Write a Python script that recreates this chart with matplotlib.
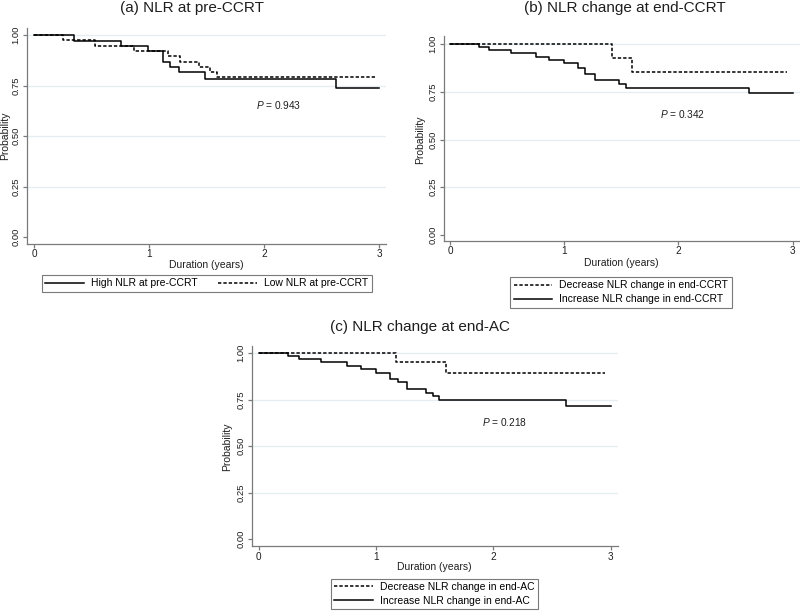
import matplotlib
matplotlib.use("Agg")
import matplotlib.pyplot as plt

plt.rcParams["font.family"] = ["Liberation Sans", "DejaVu Sans"]
plt.rcParams["mathtext.fontset"] = "custom"
plt.rcParams["mathtext.it"] = "Liberation Sans:italic"
plt.rcParams["mathtext.rm"] = "Liberation Sans"

# Kaplan-Meier step data (time in years, survival probability)
a_high_t = [0, 0.345, 0.75, 0.99, 1.12, 1.18, 1.26, 1.48, 2.62, 3.0]
a_high_s = [1.0, 0.972, 0.947, 0.921, 0.866, 0.840, 0.815, 0.784, 0.738, 0.738]
a_low_t = [0, 0.25, 0.53, 0.87, 1.165, 1.27, 1.43, 1.53, 1.59, 2.98]
a_low_s = [1.0, 0.974, 0.947, 0.921, 0.895, 0.868, 0.842, 0.816, 0.790, 0.790]

b_dec_t = [0, 1.416, 1.597, 2.95]
b_dec_s = [1.0, 0.928, 0.852, 0.852]
b_inc_t = [0, 0.256, 0.344, 0.535, 0.757, 0.87, 1.0, 1.12, 1.18, 1.27, 1.48, 1.54, 2.62, 3.0]
b_inc_s = [1.0, 0.984, 0.967, 0.951, 0.934, 0.918, 0.903, 0.872, 0.841, 0.810, 0.790, 0.772, 0.743, 0.743]

c_dec_t = [0, 1.168, 1.594, 2.95]
c_dec_s = [1.0, 0.952, 0.894, 0.894]
c_inc_t = [0, 0.253, 0.344, 0.528, 0.755, 0.87, 1.0, 1.12, 1.185, 1.267, 1.424, 1.483, 1.54, 2.62, 3.0]
c_inc_s = [1.0, 0.984, 0.968, 0.952, 0.934, 0.914, 0.896, 0.862, 0.844, 0.808, 0.789, 0.770, 0.751, 0.715, 0.715]

p_values = ["0.943", "0.342", "0.218"]
titles = ["(a) NLR at pre-CCRT", "(b) NLR change at end-CCRT", "(c) NLR change at end-AC"]
yticks = [0, 0.25, 0.5, 0.75, 1.0]
ytick_labels = ["0.00", "0.25", "0.50", "0.75", "1.00"]
xticks = [0, 1, 2, 3]

W, H = 800, 611
fig = plt.figure(figsize=(W / 100, H / 100), dpi=100)

DASH = (0, (2.2, 1.3))
AXC = "#7a7a7a"
TXT = "#1e1e1e"
GRID = "#e4eef0"


def make_axes(box, x0, x3, y1, y0, ylab_x, xlab_y):
    # box = (left, right, top, bottom) in pixels; x0/x3 pixel of t=0/3, y1/y0 pixel of p=1/0
    l, r, t, b = box
    ax = fig.add_axes([l / W, 1 - b / H, (r - l) / W, (b - t) / H])
    pxx = (x3 - x0) / 3.0
    pxy = (y0 - y1)
    ax.set_xlim((l - x0) / pxx, (r - x0) / pxx)
    ax.set_ylim((y0 - b) / pxy, (y0 - t) / pxy)
    for s in ["top", "right"]:
        ax.spines[s].set_visible(False)
    for s in ["left", "bottom"]:
        ax.spines[s].set_color(AXC)
        ax.spines[s].set_linewidth(0.9)
    ax.set_yticks(yticks)
    ax.set_yticklabels(ytick_labels, rotation=90, va="center")
    ax.set_xticks(xticks)
    ax.tick_params(colors=AXC, labelcolor=TXT, length=3, width=0.9)
    ax.tick_params(axis="y", pad=2.0, labelsize=6.8)
    ax.tick_params(axis="x", pad=1.0, labelsize=7.2)
    for y in yticks[1:]:
        ax.axhline(y, color=GRID, lw=0.9, zorder=0)
    ax.set_xlabel("Duration (years)", fontsize=7.5, color=TXT, va="center")
    ax.xaxis.set_label_coords((x0 + 1.5 * pxx - l) / (r - l), (b - xlab_y) / (b - t))
    ax.set_ylabel("Probability", fontsize=7.5, color=TXT, va="center")
    ax.yaxis.set_label_coords((ylab_x - l) / (r - l), (b - (y0 - 0.5 * pxy)) / (b - t))
    return ax


def title(text, x, y):
    fig.text(x / W, 1 - y / H, text, fontsize=11, color=TXT, ha="center", va="center")


leg_kw = dict(bbox_transform=fig.transFigure, fontsize=7.5, fancybox=False, edgecolor=AXC,
              framealpha=1, borderaxespad=0, handlelength=3.7, handletextpad=0.7,
              borderpad=0.32)

# (a)
ax_a = make_axes((27.3, 386, 28, 243.7), 34.3, 379.3, 35, 237, 5.5, 264.5)
l1, = ax_a.step(a_high_t, a_high_s, where="post", color="black", lw=1.1)
l2, = ax_a.step(a_low_t, a_low_s, where="post", color="black", lw=1.1, linestyle=DASH)
ax_a.text(1.928, 0.653, r"$\mathit{P}$ = " + p_values[0], fontsize=7.3, color=TXT, va="center")
title(titles[0], 192, 8)
leg = ax_a.legend([l1, l2], ["High NLR at pre-CCRT", "Low NLR at pre-CCRT"], ncol=2,
                  loc="upper left", bbox_to_anchor=(41.7 / W, 1 - 275 / H, 330 / W, 0.0),
                  mode="expand", columnspacing=2.0, **leg_kw)
leg.get_frame().set_linewidth(0.8)

# (b)
ax_b = make_axes((444.3, 800, 36, 240.7), 450, 792.7, 44, 235, 420.5, 263.3)
l1, = ax_b.step(b_dec_t, b_dec_s, where="post", color="black", lw=1.1, linestyle=DASH)
l2, = ax_b.step(b_inc_t, b_inc_s, where="post", color="black", lw=1.1)
ax_b.text(1.839, 0.633, r"$\mathit{P}$ = " + p_values[1], fontsize=7.3, color=TXT, va="center")
title(titles[1], 625, 8)
leg = ax_b.legend([l1, l2], ["Decrease NLR change in end-CCRT", "Increase NLR change in end-CCRT"],
                  loc="upper center", bbox_to_anchor=(621 / W, 1 - 277 / H),
                  labelspacing=0.38, **leg_kw)
leg.get_frame().set_linewidth(0.8)

# (c)
ax_c = make_axes((252.3, 618, 346, 546), 258.7, 610.7, 353.3, 539.3, 227.5, 567)
l1, = ax_c.step(c_dec_t, c_dec_s, where="post", color="black", lw=1.1, linestyle=DASH)
l2, = ax_c.step(c_inc_t, c_inc_s, where="post", color="black", lw=1.1)
ax_c.text(1.904, 0.632, r"$\mathit{P}$ = " + p_values[2], fontsize=7.3, color=TXT, va="center")
title(titles[2], 420, 327)
leg = ax_c.legend([l1, l2], ["Decrease NLR change in end-AC", "Increase NLR change in end-AC"],
                  loc="upper center", bbox_to_anchor=(434.7 / W, 1 - 578.7 / H),
                  labelspacing=0.38, **leg_kw)
leg.get_frame().set_linewidth(0.8)

fig.savefig("out.png", dpi=100, facecolor="white")
